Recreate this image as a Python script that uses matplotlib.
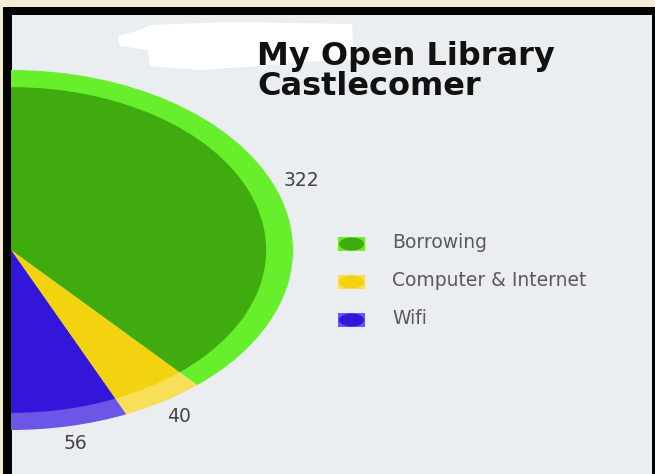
import matplotlib
matplotlib.use("Agg")
import matplotlib.pyplot as plt
from matplotlib.patches import Rectangle, Ellipse, Polygon
import numpy as np

# ---- data ----
categories = ["Borrowing", "Computer & Internet", "Wifi"]
values = [322, 40, 56]
title_lines = ["My Open Library", "Castlecomer"]

dark_colors = ["#3fab0e", "#f3d30f", "#3316da"]
light_colors = ["#68ef2c", "#f8df5a", "#6b56e8"]

W, H = 655, 474
fig = plt.figure(figsize=(W / 100, H / 100), dpi=100)
fig.patch.set_facecolor("#f1ecd2")

def fx(px):
    return px / W

def fy(py):
    return 1 - py / H

# frame: black border + light grey panel
fig.patches.append(Rectangle((fx(3), fy(474)), fx(655) - fx(3), fy(7) - fy(474),
                             transform=fig.transFigure, facecolor="black",
                             edgecolor="none", zorder=-20))
fig.patches.append(Rectangle((fx(12), fy(474)), fx(652) - fx(12), fy(15) - fy(474),
                             transform=fig.transFigure, facecolor="#eaeef0",
                             edgecolor="none", zorder=-19))
# white smudge near the top
blob = [(118, 36), (140, 30), (150, 25), (230, 22), (352, 24), (354, 60),
        (300, 62), (260, 66), (200, 70), (150, 66), (148, 50), (120, 46)]
fig.patches.append(Polygon([(fx(x), fy(y)) for x, y in blob], closed=True,
                           transform=fig.transFigure, facecolor="white",
                           edgecolor="none", zorder=-18))

# axes covering the whole figure; pie center at pixel (11, 250)
cx, cy, a, b = 11, 250, 282, 180
ax = fig.add_axes([0, 0, 1, 1])
ax.patch.set_alpha(0)
total = sum(values)
fracs = [v / total / 2 for v in values]   # half-circle pie
outer, _ = ax.pie(fracs, radius=1.0, colors=light_colors, startangle=90,
                  counterclock=False, normalize=False,
                  wedgeprops=dict(linewidth=0))
inner, _ = ax.pie(fracs, radius=0.905, colors=dark_colors, startangle=90,
                  counterclock=False, normalize=False,
                  wedgeprops=dict(linewidth=0))
ax.set_aspect("auto")
ax.set_xlim((0 - cx) / a, (W - cx) / a)
ax.set_ylim((cy - H) / b, (cy - 0) / b)
ax.axis("off")

for w, v in zip(outer, values):
    mid = np.deg2rad((w.theta1 + w.theta2) / 2)
    ax.text(1.1 * np.cos(mid), 1.1 * np.sin(mid), str(v), ha="center",
            va="center", fontsize=13.5, color="#444444", family="DejaVu Sans")

# title
fig.text(fx(257), fy(65), title_lines[0], fontsize=23, fontweight="bold",
         family="DejaVu Sans", color="#111111", va="baseline", ha="left")
fig.text(fx(257), fy(95), title_lines[1], fontsize=23, fontweight="bold",
         family="DejaVu Sans", color="#111111", va="baseline", ha="left")

# legend
leg_y = [244, 282, 320]
for lab, dc, lc, y in zip(categories, dark_colors, light_colors, leg_y):
    fig.patches.append(Rectangle((fx(338), fy(y + 7)), fx(365) - fx(338),
                                 fy(y - 7) - fy(y + 7), transform=fig.transFigure,
                                 facecolor=lc, edgecolor="none", zorder=2))
    fig.patches.append(Ellipse((fx(351.5), fy(y)), fx(25), 13 / H,
                               transform=fig.transFigure, facecolor=dc,
                               edgecolor="none", zorder=3))
    fig.text(fx(392), fy(y - 1), lab, fontsize=13.5, family="DejaVu Sans",
             color="#5a5a5a", va="center", ha="left")

fig.savefig("out.png", dpi=100)
